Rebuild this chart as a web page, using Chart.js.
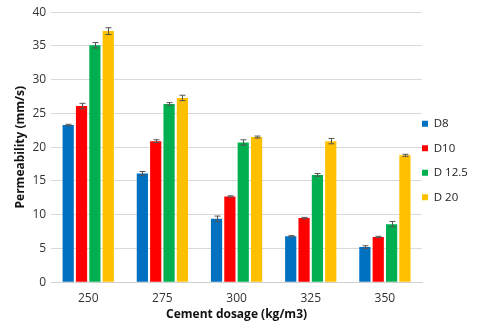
<!DOCTYPE html>
<html>
<head>
<meta charset="utf-8">
<script src="https://cdn.jsdelivr.net/npm/chart.js@4"></script>
<style>
  html, body { margin: 0; padding: 0; background: #fff; }
  #wrap { width: 480px; height: 330px; }
</style>
</head>
<body>
<div id="wrap"><canvas id="permChart"></canvas></div>
<script>
const categories = ['250', '275', '300', '325', '350'];
const seriesNames = ['D8', 'D10', 'D 12.5', 'D 20'];
const d8 = [23.3, 16.1, 9.4, 6.8, 5.2];
const d10 = [26.1, 20.9, 12.7, 9.5, 6.7];
const d125 = [35.1, 26.4, 20.7, 15.9, 8.6];
const d20 = [37.2, 27.3, 21.5, 20.9, 18.8];
const errD8 = [0.1, 0.3, 0.4, 0.1, 0.2];
const errD10 = [0.4, 0.2, 0.1, 0.1, 0.1];
const errD125 = [0.4, 0.2, 0.4, 0.2, 0.4];
const errD20 = [0.5, 0.4, 0.15, 0.4, 0.15];
const yTicks = [0, 5, 10, 15, 20, 25, 30, 35, 40];

const colors = ['#0070C0', '#FF0000', '#00B050', '#FFC000'];
const values = [d8, d10, d125, d20];
const errors = [errD8, errD10, errD125, errD20];

// error bars drawn through the chart's own scales
const errorBars = {
  id: 'errorBars',
  afterDatasetsDraw(chart) {
    const ctx = chart.ctx;
    const y = chart.scales.y;
    ctx.save();
    ctx.strokeStyle = '#555';
    ctx.lineWidth = 1;
    chart.data.datasets.forEach((ds, i) => {
      const meta = chart.getDatasetMeta(i);
      meta.data.forEach((bar, j) => {
        const e = ds.errors[j];
        const top = y.getPixelForValue(ds.data[j] + e);
        const bot = y.getPixelForValue(ds.data[j] - e);
        const x = Math.round(bar.x) + 0.5;
        ctx.beginPath();
        ctx.moveTo(x, top); ctx.lineTo(x, bot);
        ctx.moveTo(x - 3, top); ctx.lineTo(x + 3, top);
        ctx.moveTo(x - 3, bot); ctx.lineTo(x + 3, bot);
        ctx.stroke();
      });
    });
    ctx.restore();
  }
};

// narrower legend column, nudged left like the original
const legendTweak = {
  id: 'legendTweak',
  beforeLayout(chart) {
    const lg = chart.legend;
    if (lg && !lg._patched) {
      const fit = lg.fit.bind(lg);
      lg.fit = function () { fit(); this.width = 58; };
      lg._patched = true;
    }
  },
  afterLayout(chart) {
    const lg = chart.legend;
    if (!lg) return;
    lg.left -= 13; lg.right -= 13;
    lg.top += 2; lg.bottom += 2;
  }
};

new Chart(document.getElementById('permChart'), {
  type: 'bar',
  data: {
    labels: categories,
    datasets: seriesNames.map((name, i) => ({
      label: name,
      data: values[i],
      errors: errors[i],
      backgroundColor: colors[i],
      borderWidth: 0,
      categoryPercentage: 0.72,
      barPercentage: 0.84
    }))
  },
  options: {
    responsive: true,
    maintainAspectRatio: false,
    animation: false,
    layout: { padding: { top: -5, right: 0, bottom: 8, left: 13 } },
    plugins: {
      legend: {
        position: 'right',
        labels: {
          boxWidth: 6,
          boxHeight: 6,
          padding: 13,
          color: '#222',
          font: { family: 'Open Sans', size: 11.5 }
        }
      },
      tooltip: { enabled: false }
    },
    scales: {
      x: {
        grid: { display: false, drawTicks: false },
        border: { color: '#d0d0d0' },
        ticks: { color: '#333', padding: 9, font: { family: 'Open Sans', size: 12 } },
        title: {
          display: true,
          text: 'Cement dosage (kg/m3)',
          color: '#111',
          padding: { top: -7, bottom: 0 },
          font: { family: 'Open Sans', size: 12, weight: 'bold' }
        }
      },
      y: {
        min: 0,
        max: 40,
        afterBuildTicks(axis) { axis.ticks = yTicks.map(v => ({ value: v })); },
        grid: { color: '#d9d9d9', drawTicks: false },
        border: { display: false },
        ticks: { color: '#333', padding: 5, font: { family: 'Open Sans', size: 12 } },
        title: {
          display: true,
          text: 'Permeability (mm/s)',
          color: '#111',
          padding: { top: 0, bottom: 0 },
          font: { family: 'Open Sans', size: 12, weight: 'bold' }
        }
      }
    }
  },
  plugins: [errorBars, legendTweak]
});
</script>
</body>
</html>
